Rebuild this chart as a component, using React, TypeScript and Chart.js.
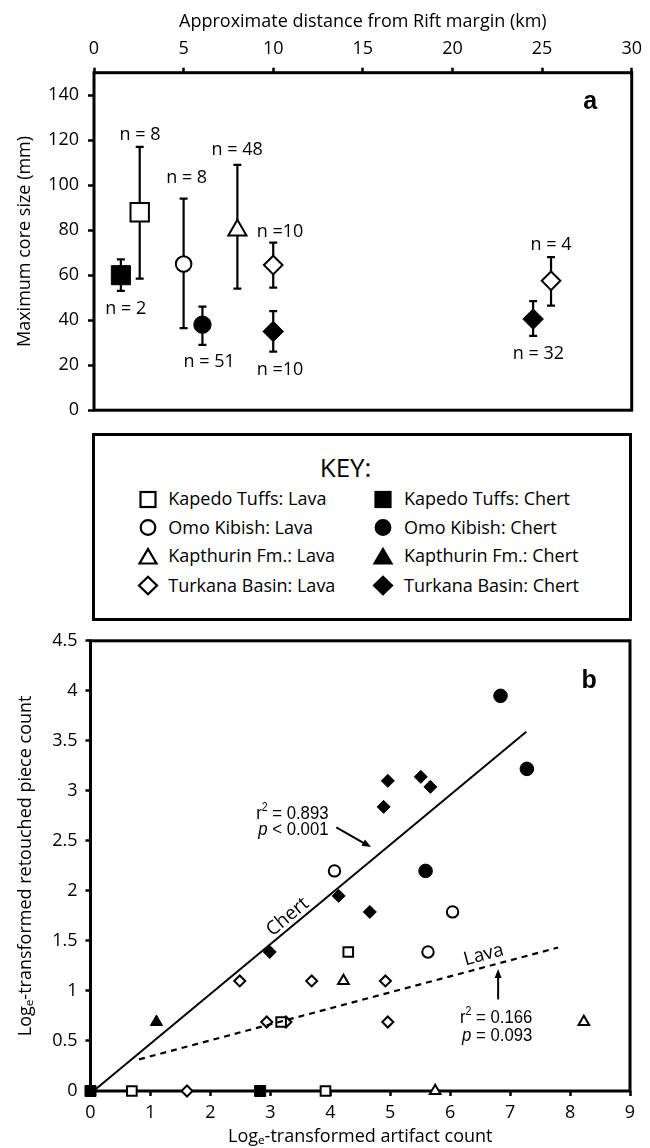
import React, { useEffect, useRef } from 'react';
import { Chart, registerables } from 'chart.js';

Chart.register(...registerables);

const FONT = "'Open Sans', 'Noto Sans', 'DejaVu Sans', sans-serif";
const NARROW = "'Liberation Sans', Arial, sans-serif";

// ---------------- Panel a: maximum core size vs distance ----------------
const distanceTicksA = [0, 5, 10, 15, 20, 25, 30];
const sizeTicksA = [0, 20, 40, 60, 80, 100, 120, 140];

// x = km from Rift margin, y = mean max core size (mm), hi / lo = error bar ends
const kapedoLavaA = [{ x: 2.55, y: 88, hi: 117, lo: 58.5 }];
const kapedoChertA = [{ x: 1.5, y: 60, hi: 67, lo: 53 }];
const omoLavaA = [{ x: 5.0, y: 65, hi: 94, lo: 36.5 }];
const omoChertA = [{ x: 6.05, y: 38, hi: 46, lo: 29 }];
const kapthurinLavaA = [{ x: 8.0, y: 80, hi: 109, lo: 54 }];
const turkanaLavaA = [
  { x: 10, y: 64.5, hi: 74.5, lo: 54.5 },
  { x: 25.5, y: 57.5, hi: 68, lo: 46.5 },
];
const turkanaChertA = [
  { x: 10, y: 35, hi: 44, lo: 26 },
  { x: 24.5, y: 40.5, hi: 48.5, lo: 33 },
];

// sample-size annotations (data coordinates)
const sampleLabelsA = [
  { x: 2.57, y: 122.4, text: 'n = 8' },
  { x: 1.77, y: 45.2, text: 'n = 2' },
  { x: 5.17, y: 103.4, text: 'n = 8' },
  { x: 7.99, y: 115.8, text: 'n = 48' },
  { x: 10.38, y: 79.3, text: 'n =10' },
  { x: 6.43, y: 21.5, text: 'n = 51' },
  { x: 10.38, y: 17.8, text: 'n =10' },
  { x: 25.5, y: 73.4, text: 'n = 4' },
  { x: 24.8, y: 25.1, text: 'n = 32' },
];

// ---------------- Panel b: retouched pieces vs artifact count ----------------
const artifactTicksB = [0, 1, 2, 3, 4, 5, 6, 7, 8, 9];
const retouchTicksB = [0, 0.5, 1, 1.5, 2, 2.5, 3, 3.5, 4, 4.5];

const kapedoLavaB = [
  { x: 0.69, y: 0 },
  { x: 3.92, y: 0 },
  { x: 3.18, y: 0.69 },
  { x: 4.3, y: 1.39 },
];
const kapedoChertB = [
  { x: 0, y: 0 },
  { x: 2.83, y: 0 },
];
const omoLavaB = [
  { x: 4.07, y: 2.2 },
  { x: 6.04, y: 1.79 },
  { x: 5.63, y: 1.39 },
];
const omoChertB = [
  { x: 6.84, y: 3.95 },
  { x: 7.28, y: 3.22 },
  { x: 5.59, y: 2.2 },
];
const kapthurinLavaB = [
  { x: 4.22, y: 1.1 },
  { x: 8.23, y: 0.69 },
  { x: 5.75, y: 0 },
];
const kapthurinChertB = [{ x: 1.1, y: 0.69 }];
const turkanaLavaB = [
  { x: 1.61, y: 0 },
  { x: 2.49, y: 1.1 },
  { x: 2.94, y: 0.69 },
  { x: 3.26, y: 0.69 },
  { x: 3.69, y: 1.1 },
  { x: 4.92, y: 1.1 },
  { x: 4.96, y: 0.69 },
];
const turkanaChertB = [
  { x: 2.99, y: 1.39 },
  { x: 4.14, y: 1.95 },
  { x: 4.66, y: 1.79 },
  { x: 4.89, y: 2.84 },
  { x: 4.96, y: 3.1 },
  { x: 5.51, y: 3.14 },
  { x: 5.67, y: 3.04 },
];
const chertFitB = [
  { x: 0.05, y: 0.0 },
  { x: 7.27, y: 3.59 },
];
const lavaFitB = [
  { x: 0.81, y: 0.316 },
  { x: 7.8, y: 1.434 },
];

// ---------------- Key ----------------
const keyLavaLabels = ['Kapedo Tuffs: Lava', 'Omo Kibish: Lava', 'Kapthurin Fm.: Lava', 'Turkana Basin: Lava'];
const keyChertLabels = ['Kapedo Tuffs: Chert', 'Omo Kibish: Chert', 'Kapthurin Fm.: Chert', 'Turkana Basin: Chert'];
const keyShapes = ['square', 'circle', 'triangle', 'diamond'];

// ---------------- helpers ----------------
const framePlugin = {
  id: 'frame',
  beforeDatasetsDraw(chart: any) {
    const { ctx, chartArea: a } = chart;
    ctx.save();
    ctx.lineWidth = 3;
    ctx.strokeStyle = '#000';
    ctx.strokeRect(a.left, a.top, a.right - a.left, a.bottom - a.top);
    ctx.restore();
  },
};

const errorBarPlugin = {
  id: 'errorBars',
  beforeDatasetsDraw(chart: any) {
    const { ctx } = chart;
    const xs = chart.scales.x;
    const ys = chart.scales.y;
    ctx.save();
    ctx.strokeStyle = '#000';
    ctx.lineWidth = 2.2;
    chart.data.datasets.forEach((ds: any) => {
      (ds.data as any[]).forEach((p) => {
        if (p.hi == null) return;
        const px = xs.getPixelForValue(p.x);
        const t = ys.getPixelForValue(p.hi);
        const b = ys.getPixelForValue(p.lo);
        ctx.beginPath();
        ctx.moveTo(px, t);
        ctx.lineTo(px, b);
        ctx.moveTo(px - 4, t);
        ctx.lineTo(px + 4, t);
        ctx.moveTo(px - 4, b);
        ctx.lineTo(px + 4, b);
        ctx.stroke();
      });
    });
    ctx.restore();
  },
};

const labelsPluginA = {
  id: 'labelsA',
  afterDatasetsDraw(chart: any) {
    const { ctx } = chart;
    const xs = chart.scales.x;
    const ys = chart.scales.y;
    ctx.save();
    ctx.fillStyle = '#000';
    ctx.textAlign = 'center';
    ctx.textBaseline = 'middle';
    ctx.font = `18px ${FONT}`;
    sampleLabelsA.forEach((l) => {
      ctx.fillText(l.text, xs.getPixelForValue(l.x), ys.getPixelForValue(l.y));
    });
    ctx.font = `bold 25px ${NARROW}`;
    ctx.fillText('a', xs.getPixelForValue(27.68), ys.getPixelForValue(136.8));
    ctx.restore();
  },
};

function drawRich(ctx: any, parts: any[], xRight: number, yMid: number, size: number) {
  const sx = 0.88;
  const fontOf = (p: any) => `${p.italic ? 'italic ' : ''}${p.sup ? Math.round(size * 0.62) : size}px ${NARROW}`;
  let w = 0;
  parts.forEach((p) => {
    ctx.font = fontOf(p);
    w += ctx.measureText(p.t).width * sx;
  });
  let x = xRight - w;
  parts.forEach((p) => {
    ctx.font = fontOf(p);
    const tw = ctx.measureText(p.t).width * sx;
    ctx.save();
    ctx.translate(x, yMid + (p.sup ? -size * 0.32 : 0));
    ctx.scale(sx, 1);
    ctx.fillText(p.t, 0, 0);
    ctx.restore();
    x += tw;
  });
}

function drawArrow(ctx: any, x1: number, y1: number, x2: number, y2: number) {
  const ang = Math.atan2(y2 - y1, x2 - x1);
  const hl = 9;
  const hw = 3.5;
  ctx.beginPath();
  ctx.moveTo(x1, y1);
  ctx.lineTo(x2 - Math.cos(ang) * hl * 0.8, y2 - Math.sin(ang) * hl * 0.8);
  ctx.stroke();
  ctx.beginPath();
  ctx.moveTo(x2, y2);
  ctx.lineTo(x2 - Math.cos(ang) * hl - Math.sin(ang) * hw, y2 - Math.sin(ang) * hl + Math.cos(ang) * hw);
  ctx.lineTo(x2 - Math.cos(ang) * hl + Math.sin(ang) * hw, y2 - Math.sin(ang) * hl - Math.cos(ang) * hw);
  ctx.closePath();
  ctx.fill();
}

const labelsPluginB = {
  id: 'labelsB',
  afterDatasetsDraw(chart: any) {
    const { ctx } = chart;
    const xs = chart.scales.x;
    const ys = chart.scales.y;
    const X = (v: number) => xs.getPixelForValue(v);
    const Y = (v: number) => ys.getPixelForValue(v);
    ctx.save();
    ctx.fillStyle = '#000';
    ctx.strokeStyle = '#000';
    ctx.lineWidth = 2;
    ctx.textBaseline = 'middle';
    ctx.textAlign = 'left';

    // regression statistics
    drawRich(ctx, [{ t: 'r' }, { t: '2', sup: true }, { t: ' = 0.893' }], X(3.97), Y(2.774), 19);
    drawRich(ctx, [{ t: 'p', italic: true }, { t: ' < 0.001' }], X(3.97), Y(2.616), 19);
    drawRich(ctx, [{ t: 'r' }, { t: '2', sup: true }, { t: ' = 0.166' }], X(7.37), Y(0.73), 19);
    drawRich(ctx, [{ t: 'p', italic: true }, { t: ' = 0.093' }], X(7.37), Y(0.553), 19);

    // arrows
    drawArrow(ctx, X(4.1), Y(2.636), X(4.68), Y(2.438));
    drawArrow(ctx, X(6.8), Y(0.915), X(6.8), Y(1.22));

    // line names, rotated along the fits
    ctx.textAlign = 'center';
    ctx.font = `19px ${FONT}`;
    const angC = Math.atan2(Y(chertFitB[1].y) - Y(chertFitB[0].y), X(chertFitB[1].x) - X(chertFitB[0].x));
    ctx.save();
    ctx.translate(X(3.29), Y(1.74));
    ctx.rotate(angC);
    ctx.fillText('Chert', 0, 0);
    ctx.restore();
    const angL = Math.atan2(Y(lavaFitB[1].y) - Y(lavaFitB[0].y), X(lavaFitB[1].x) - X(lavaFitB[0].x));
    ctx.save();
    ctx.translate(X(6.56), Y(1.36));
    ctx.rotate(angL);
    ctx.fillText('Lava', 0, 0);
    ctx.restore();

    ctx.font = `bold 25px ${NARROW}`;
    ctx.fillText('b', X(8.32), Y(4.1));
    ctx.restore();
  },
};

const tickFont = { family: FONT, size: 18 };
const titleFont = { family: FONT, size: 18 };
const plainTick = (v: any) => String(Math.round(Number(v) * 10) / 10);

function marker(shape: string, filled: boolean, radius: number) {
  const styleMap: any = { square: 'rect', circle: 'circle', triangle: 'triangle', diamond: 'rectRot' };
  return {
    pointStyle: styleMap[shape],
    pointRadius: radius,
    pointHoverRadius: radius,
    pointBackgroundColor: filled ? '#000' : '#fff',
    pointBorderColor: '#000',
    pointBorderWidth: filled ? 1 : 2,
    backgroundColor: filled ? '#000' : '#fff',
    borderColor: '#000',
    showLine: false,
    clip: false as any,
  };
}

function PanelA() {
  const ref = useRef<HTMLCanvasElement>(null);
  useEffect(() => {
    const chart = new Chart(ref.current as HTMLCanvasElement, {
      type: 'scatter',
      data: {
        datasets: [
          { label: 'Kapedo Tuffs: Lava', data: kapedoLavaA, ...marker('square', false, 13) },
          { label: 'Kapedo Tuffs: Chert', data: kapedoChertA, ...marker('square', true, 13.5) },
          { label: 'Omo Kibish: Lava', data: omoLavaA, ...marker('circle', false, 7.8) },
          { label: 'Omo Kibish: Chert', data: omoChertA, ...marker('circle', true, 8.7) },
          { label: 'Kapthurin Fm.: Lava', data: kapthurinLavaA, ...marker('triangle', false, 10.5) },
          { label: 'Turkana Basin: Lava', data: turkanaLavaA, ...marker('diamond', false, 9.3) },
          { label: 'Turkana Basin: Chert', data: turkanaChertA, ...marker('diamond', true, 10.3) },
        ] as any,
      },
      options: {
        animation: false,
        responsive: false,
        devicePixelRatio: 1,
        layout: { padding: { left: 0, top: 0, right: 18.3, bottom: 14.3 } },
        plugins: { legend: { display: false }, tooltip: { enabled: false } },
        scales: {
          x: {
            type: 'linear',
            position: 'top',
            min: 0,
            max: 30,
            afterBuildTicks: (s: any) => {
              s.ticks = distanceTicksA.map((v) => ({ value: v }));
            },
            afterFit: (s: any) => {
              s.height = 72.7;
            },
            ticks: { color: '#000', font: tickFont, padding: 7.6, maxRotation: 0, callback: plainTick },
            grid: { drawOnChartArea: false, drawTicks: true, tickLength: 5, tickWidth: 2.5, tickColor: '#000' },
            border: { display: false },
            title: {
              display: true,
              text: 'Approximate distance from Rift margin (km)',
              color: '#000',
              font: titleFont,
              padding: { top: 11, bottom: 0 },
            },
          },
          y: {
            type: 'linear',
            min: 0,
            max: 150,
            afterBuildTicks: (s: any) => {
              s.ticks = sizeTicksA.map((v) => ({ value: v }));
            },
            afterFit: (s: any) => {
              s.width = 94;
            },
            ticks: { color: '#000', font: tickFont, padding: 9, callback: plainTick },
            grid: { drawOnChartArea: false, drawTicks: true, tickLength: 6, tickWidth: 2.5, tickColor: '#000' },
            border: { display: false },
            title: {
              display: true,
              text: 'Maximum core size (mm)',
              color: '#000',
              font: titleFont,
              padding: { top: 14, bottom: 0 },
            },
          },
        },
      } as any,
      plugins: [framePlugin, errorBarPlugin, labelsPluginA],
    });
    return () => chart.destroy();
  }, []);
  return <canvas ref={ref} width={650} height={430} style={{ position: 'absolute', left: 0, top: 0 }} />;
}

function PanelB() {
  const ref = useRef<HTMLCanvasElement>(null);
  useEffect(() => {
    const chart = new Chart(ref.current as HTMLCanvasElement, {
      type: 'scatter',
      data: {
        datasets: [
          {
            label: 'Chert fit',
            data: chertFitB,
            showLine: true,
            pointRadius: 0,
            borderColor: '#000',
            borderWidth: 2,
            clip: false,
          },
          {
            label: 'Lava fit',
            data: lavaFitB,
            showLine: true,
            pointRadius: 0,
            borderColor: '#000',
            borderWidth: 2.2,
            borderDash: [6, 5],
            clip: false,
          },
          { label: 'Kapedo Tuffs: Lava', data: kapedoLavaB, ...marker('square', false, 6.8) },
          { label: 'Kapedo Tuffs: Chert', data: kapedoChertB, ...marker('square', true, 7.8) },
          { label: 'Omo Kibish: Lava', data: omoLavaB, ...marker('circle', false, 5.7) },
          { label: 'Omo Kibish: Chert', data: omoChertB, ...marker('circle', true, 6.8) },
          { label: 'Kapthurin Fm.: Lava', data: kapthurinLavaB, ...marker('triangle', false, 6.2) },
          { label: 'Kapthurin Fm.: Chert', data: kapthurinChertB, ...marker('triangle', true, 7) },
          { label: 'Turkana Basin: Lava', data: turkanaLavaB, ...marker('diamond', false, 5.5) },
          { label: 'Turkana Basin: Chert', data: turkanaChertB, ...marker('diamond', true, 6.5) },
        ] as any,
      },
      options: {
        animation: false,
        responsive: false,
        devicePixelRatio: 1,
        layout: { padding: { left: 0, top: 13, right: 20, bottom: 0 } },
        plugins: { legend: { display: false }, tooltip: { enabled: false } },
        scales: {
          x: {
            type: 'linear',
            position: 'bottom',
            min: 0,
            max: 9,
            afterBuildTicks: (s: any) => {
              s.ticks = artifactTicksB.map((v) => ({ value: v }));
            },
            afterFit: (s: any) => {
              s.height = 57;
            },
            ticks: { color: '#000', font: tickFont, padding: 6, maxRotation: 0, callback: plainTick },
            grid: { drawOnChartArea: false, drawTicks: true, tickLength: 5, tickWidth: 2.5, tickColor: '#000' },
            border: { display: false },
            title: {
              display: true,
              text: 'Logₑ-transformed artifact count',
              color: '#000',
              font: titleFont,
              padding: { top: 0, bottom: 0 },
            },
          },
          y: {
            type: 'linear',
            min: 0,
            max: 4.5,
            afterBuildTicks: (s: any) => {
              s.ticks = retouchTicksB.map((v) => ({ value: v }));
            },
            afterFit: (s: any) => {
              s.width = 90.5;
            },
            ticks: { color: '#000', font: tickFont, padding: 8, callback: plainTick },
            grid: { drawOnChartArea: false, drawTicks: true, tickLength: 5, tickWidth: 2.5, tickColor: '#000' },
            border: { display: false },
            title: {
              display: true,
              text: 'Logₑ-transformed retouched piece count',
              color: '#000',
              font: titleFont,
              padding: { top: 15, bottom: 0 },
            },
          },
        },
      } as any,
      plugins: [framePlugin, labelsPluginB],
    });
    return () => chart.destroy();
  }, []);
  return <canvas ref={ref} width={650} height={526} style={{ position: 'absolute', left: 0, top: 622 }} />;
}

function KeySymbol({ shape, filled }: { shape: string; filled: boolean }) {
  const fill = filled ? '#000' : '#fff';
  let el: any = null;
  if (shape === 'square') el = <rect x={3.5} y={3} width={15} height={15} fill={fill} stroke="#000" strokeWidth={2.2} />;
  if (shape === 'circle') el = <circle cx={11} cy={10.5} r={7.3} fill={fill} stroke="#000" strokeWidth={2.2} />;
  if (shape === 'triangle') el = <polygon points="11,3 19.5,17.5 2.5,17.5" fill={fill} stroke="#000" strokeWidth={2.2} strokeLinejoin="miter" />;
  if (shape === 'diamond') el = <polygon points="11,1.8 20,10.5 11,19.2 2,10.5" fill={fill} stroke="#000" strokeWidth={2.2} />;
  return (
    <svg width={22} height={21} viewBox="0 0 22 21" style={{ display: 'block' }}>
      {el}
    </svg>
  );
}

function KeyBox() {
  const rowY = [499.3, 527.5, 556.3, 585.5];
  const textStyle: any = {
    position: 'absolute',
    fontFamily: FONT,
    fontSize: 18,
    lineHeight: '21px',
    color: '#000',
    whiteSpace: 'nowrap',
  };
  return (
    <>
      <div
        style={{
          position: 'absolute',
          left: 91.5,
          top: 433,
          width: 540,
          height: 188,
          border: '3px solid #000',
          boxSizing: 'border-box',
        }}
      />
      <div
        style={{
          position: 'absolute',
          left: 295.6,
          width: 100,
          top: 467 - 17,
          height: 34,
          lineHeight: '34px',
          textAlign: 'center',
          fontFamily: FONT,
          fontSize: 26,
          color: '#000',
        }}
      >
        KEY:
      </div>
      {keyShapes.map((shape, i) => (
        <React.Fragment key={shape}>
          <div style={{ position: 'absolute', left: 148.3 - 11, top: rowY[i] - 10.5 }}>
            <KeySymbol shape={shape} filled={false} />
          </div>
          <div style={{ ...textStyle, left: 168.3, top: rowY[i] - 11 }}>{keyLavaLabels[i]}</div>
          <div style={{ position: 'absolute', left: 382.6 - 11, top: rowY[i] - 10.5 }}>
            <KeySymbol shape={shape} filled={true} />
          </div>
          <div style={{ ...textStyle, left: 404, top: rowY[i] - 11 }}>{keyChertLabels[i]}</div>
        </React.Fragment>
      ))}
    </>
  );
}

export default function App() {
  return (
    <div style={{ position: 'absolute', left: 0, top: 0, width: 650, height: 1148, background: '#fff' }}>
      <PanelA />
      <KeyBox />
      <PanelB />
    </div>
  );
}
